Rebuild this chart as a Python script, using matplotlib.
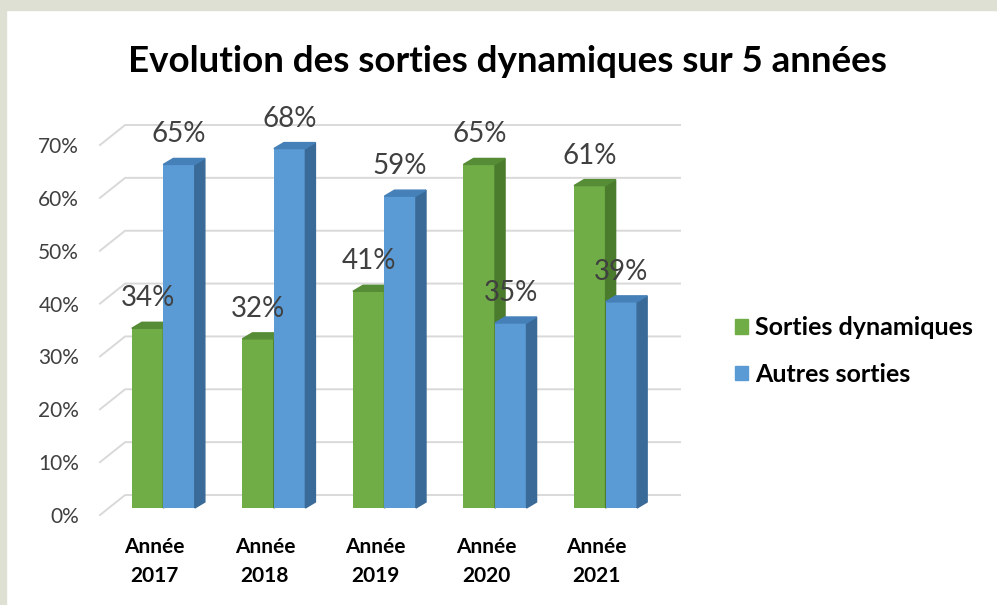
import matplotlib
matplotlib.use("Agg")
import matplotlib.pyplot as plt
from matplotlib.patches import Polygon, Rectangle, Patch
from matplotlib import transforms

'''
Data:
'''
years = ["2017", "2018", "2019", "2020", "2021"]
dynamiques = [34, 32, 41, 65, 61]
autres = [65, 68, 59, 35, 39]
series_names = ["Sorties dynamiques", "Autres sorties"]
y_ticks = [0, 10, 20, 30, 40, 50, 60, 70]
title = "Evolution des sorties dynamiques sur 5 années"

'''
Style:
'''
W, H, DPI = 997, 605, 100
FONT = "Lato"
face_colors = ["#70ad47", "#5b9bd5"]
side_colors = ["#4b7b2d", "#3a6a98"]
top_colors = ["#558c35", "#4580b8"]
grid_color = "#d9d9d9"
text_color = "#404040"
px_per_cat = 110.0
px_per_pct = 370.0 / 70.0
bar_w = 0.285
depth_x = 10 / px_per_cat
depth_y = 6 / px_per_pct
back_x = 25 / px_per_cat
back_y = 20 / px_per_pct

plt.rcParams["font.family"] = [FONT, "DejaVu Sans"]

fig = plt.figure(figsize=(W / DPI, H / DPI), dpi=DPI)
fig.patch.set_facecolor("white")
# grey frame around the slide
fig.patches.append(Rectangle((0, 1 - 10 / H), 1, 10 / H, transform=fig.transFigure,
                             color="#dde0d3", zorder=0))
fig.patches.append(Rectangle((0, 0), 6 / W, 1, transform=fig.transFigure,
                             color="#dde0d3", zorder=0))

ax = fig.add_axes([100 / W, 90 / H, 580 / W, 370 / H])
xmin, xmax = -0.491, -0.491 + 577 / px_per_cat
ax.set_xlim(xmin, xmax)
ax.set_ylim(0, 70)
for s in ax.spines.values():
    s.set_visible(False)

# bars sit a bit behind the front plane
face = transforms.offset_copy(ax.transData, fig=fig, x=9, y=7, units="dots")

'''
Gridlines (back wall + diagonal on the side wall):
'''
for t in y_ticks:
    ax.plot([xmin, xmin + back_x, xmax], [t, t + back_y, t + back_y],
            color=grid_color, lw=1.4, clip_on=False, zorder=0)

'''
3D-looking bars:
'''
for k, vals in enumerate([dynamiques, autres]):
    for i, v in enumerate(vals):
        x0 = i - bar_w + k * bar_w
        x1 = x0 + bar_w
        z = 2 + i * 2 + k * 0.5
        ax.bar(x0, v, width=bar_w, align="edge", color=face_colors[k],
               transform=face, zorder=z, clip_on=False)
        side = Polygon([(x1, 0), (x1 + depth_x, depth_y), (x1 + depth_x, v + depth_y), (x1, v)],
                       closed=True, color=side_colors[k], transform=face,
                       zorder=z, clip_on=False)
        top = Polygon([(x0, v), (x1, v), (x1 + depth_x, v + depth_y), (x0 + depth_x, v + depth_y)],
                      closed=True, color=top_colors[k], transform=face,
                      zorder=z, clip_on=False)
        ax.add_patch(side)
        ax.add_patch(top)
        ax.annotate(f"{v}%", xy=(x0 + bar_w / 2, v), xycoords=face,
                    xytext=(0, 30 * 72 / DPI), textcoords="offset points",
                    ha="center", va="center", fontsize=20, color=text_color, zorder=20)

'''
Axes labels:
'''
ax.set_yticks(y_ticks, [f"{t}%" for t in y_ticks])
ax.tick_params(axis="y", length=0, pad=15, labelsize=15, labelcolor=text_color)
ax.set_xticks(range(len(years)), [f"Année\n{y}" for y in years])
ax.tick_params(axis="x", length=0, pad=16, labelsize=15, labelcolor="black")
for lab in ax.get_xticklabels():
    lab.set_fontweight("bold")
    lab.set_linespacing(1.55)

fig.text(507 / W, 1 - 62 / H, title, ha="center", va="center",
         fontsize=26.5, fontweight="bold", color="black")

handles = [Patch(color=c) for c in face_colors]
fig.legend(handles, series_names, loc="center left",
           bbox_to_anchor=(712 / W, 1 - 351 / H), frameon=False,
           prop={"size": 18, "weight": "bold"}, handlelength=0.52, handleheight=0.52,
           handletextpad=0.3, labelspacing=0.95)

fig.savefig("out.png", dpi=DPI)
